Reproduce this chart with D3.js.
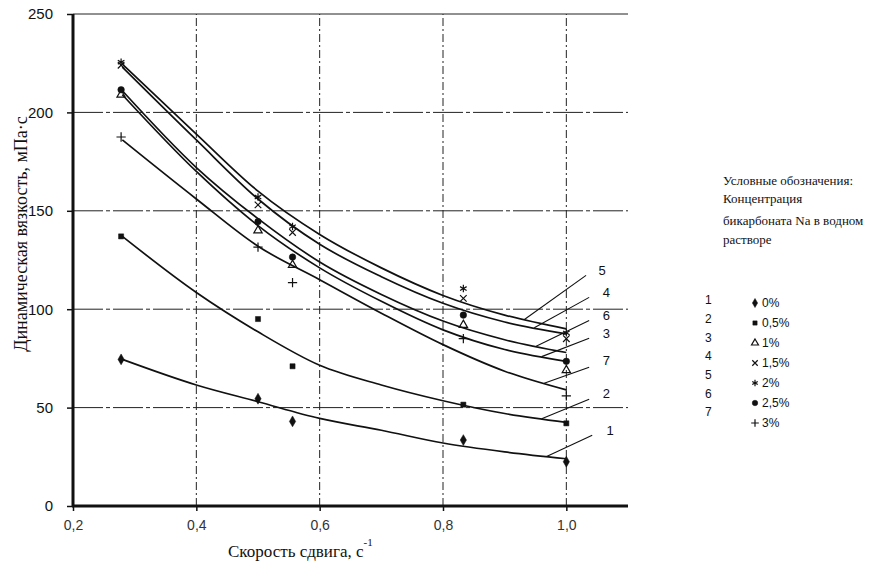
<!DOCTYPE html>
<html><head><meta charset="utf-8">
<script src="https://cdn.jsdelivr.net/npm/d3@7/dist/d3.min.js"></script>
<style>body{margin:0;background:#fff}svg{display:block}</style>
</head><body>
<svg id="c" width="871" height="571"></svg>
<script>
// ---- data ----
const pointX = [0.278, 0.5, 0.556, 0.833, 1.0];
const s1 = [74.5, 54.5, 43, 33.5, 22.5];      // 0%
const s2 = [137, 95, 71, 51.5, 42];           // 0,5%
const s3 = [209, 140, 122.5, 92, 69];         // 1%
const s4 = [224, 153, 139, 105.5, 85];        // 1,5%
const s5 = [225.5, 157, 142, 110.5, 88];      // 2%
const s6 = [211.5, 144.5, 126.5, 97, 73.5];   // 2,5%
const s7 = [187.5, 131.5, 113.5, 85, 56];     // 3%

const curveX = [0.28, 0.4, 0.5, 0.6, 0.7, 0.8, 0.9, 1.0];
const c1 = [74.5, 61.5, 53, 44.5, 38.5, 32, 27.5, 24];
const c2 = [137, 108.5, 88.5, 71.5, 61.5, 53.5, 47, 42.5];
const c3 = [209, 170, 142.5, 121, 104, 89.5, 79.5, 73.5];
const c4 = [223, 186, 156, 133, 116.5, 103, 93.5, 87.5];
const c5 = [224.5, 189, 160, 138, 121, 107, 97, 90];
const c6 = [211, 172, 146, 124, 107.5, 94, 84.5, 78];
const c7 = [186, 156, 132, 115, 98, 82, 68.5, 59];

const seriesNames = ["0%", "0,5%", "1%", "1,5%", "2%", "2,5%", "3%"];
const seriesNums = ["1", "2", "3", "4", "5", "6", "7"];
const xTicks = [0.2, 0.4, 0.6, 0.8, 1.0];
const xTickLabels = ["0,2", "0,4", "0,6", "0,8", "1,0"];
const yTicks = [0, 50, 100, 150, 200, 250];
const legendTitle = ["Условные обозначения:", "Концентрация", "бикарбоната Na в водном", "растворе"];
const yTitle = "Динамическая вязкость, мПа·с";
const xTitle = "Скорость сдвига, с";

// curve labels: [label, labelX, labelY, leaderStartX, leaderStartY, leaderEndX, curve#] (data units)
const curveLabels = [
  ["5", 1.058, 119.8, 1.032, 117.2, 0.932, 5],
  ["4", 1.065, 108.6, 1.037, 106.0, 0.948, 4],
  ["6", 1.065, 97.0, 1.037, 94.3, 0.951, 6],
  ["3", 1.065, 87.8, 1.037, 85.2, 0.960, 3],
  ["7", 1.065, 74.0, 1.037, 70.5, 0.964, 7],
  ["2", 1.065, 57.3, 1.037, 54.2, 0.960, 2],
  ["1", 1.071, 38.5, 1.042, 35.9, 0.968, 1]
];

// ---- drawing ----
const pts = [s1, s2, s3, s4, s5, s6, s7];
const curves = [c1, c2, c3, c4, c5, c6, c7];
const svg = d3.select("#c");
const x = d3.scaleLinear().domain([0.2, 1.1]).range([73, 628]);
const y = d3.scaleLinear().domain([0, 250]).range([506, 14]);

const ink = "#111";
// grid
const g = svg.append("g");
g.selectAll(".hg").data(yTicks.filter(d => d > 0)).join("line")
  .attr("x1", x(0.2)).attr("x2", x(1.1)).attr("y1", d => y(d)).attr("y2", d => y(d))
  .attr("stroke", "#222").attr("stroke-width", 1).attr("stroke-dasharray", d => d === 250 ? null : "30,3,4,3");
g.selectAll(".vg").data(xTicks.filter(d => d > 0.2)).join("line")
  .attr("x1", d => x(d)).attr("x2", d => x(d)).attr("y1", y(0)).attr("y2", y(250))
  .attr("stroke", "#222").attr("stroke-width", 1).attr("stroke-dasharray", "8,3,2,3");

// axes
const yAxis = d3.axisLeft(y).tickValues(yTicks).tickSize(6).tickPadding(14).tickFormat(d3.format("d"));
const ya = svg.append("g").attr("transform", `translate(${x(0.2)},0)`).call(yAxis);
const xAxis = d3.axisBottom(x).tickValues(xTicks).tickSize(5).tickPadding(9).tickFormat((d, i) => xTickLabels[i]);
const xa = svg.append("g").attr("transform", `translate(0,${y(0)})`).call(xAxis);
[ya, xa].forEach(a => {
  a.select(".domain").remove();
  a.selectAll("line").attr("stroke", ink).attr("stroke-width", 1.5);
  a.selectAll("text").attr("fill", ink).style("font-family", "Liberation Sans, Arial, sans-serif");
});
ya.selectAll("text").style("font-size", "15px");
xa.selectAll("text").style("font-size", "14px").attr("fill", "#333");
svg.append("line").attr("x1", x(0.2)).attr("x2", x(0.2)).attr("y1", y(0) + 1).attr("y2", y(250))
  .attr("stroke", ink).attr("stroke-width", 3);
svg.append("line").attr("x1", x(0.2) - 1).attr("x2", x(1.1)).attr("y1", y(0)).attr("y2", y(0))
  .attr("stroke", ink).attr("stroke-width", 3);

// curves
const line = d3.line().x((d, i) => x(curveX[i])).y(d => y(d)).curve(d3.curveMonotoneX);
svg.append("g").selectAll("path").data(curves).join("path")
  .attr("d", d => line(d)).attr("fill", "none").attr("stroke", ink).attr("stroke-width", 1.7);

// markers
const S = d3;
const symDefs = [
  {t: S.symbolDiamond, size: 34, fill: true},
  {t: S.symbolSquare, size: 26, fill: true},
  {t: S.symbolTriangle, size: 30, fill: false},
  {t: S.symbolTimes || S.symbolCross, size: 30, fill: false},
  {t: S.symbolAsterisk || S.symbolCross, size: 40, fill: false},
  {t: S.symbolCircle, size: 34, fill: true},
  {t: S.symbolPlus || S.symbolCross, size: 30, fill: false}
];
function drawSym(sel, k, scale) {
  const s = symDefs[k];
  sel.attr("d", d3.symbol().type(s.t).size(s.size * (scale || 1))())
    .attr("fill", s.fill ? ink : "none").attr("stroke", ink).attr("stroke-width", s.fill ? 0.5 : 1.2);
}
pts.forEach((arr, k) => {
  svg.append("g").selectAll("path").data(arr).join("path")
    .attr("transform", (d, i) => `translate(${x(pointX[i])},${y(d)})`)
    .call(drawSym, k);
});

// curve labels + leaders
function interp(arr, xv) {
  const i = d3.bisectRight(curveX, xv) - 1;
  const j = Math.min(i + 1, curveX.length - 1);
  const t = (xv - curveX[i]) / (curveX[j] - curveX[i] || 1);
  return arr[i] + (arr[j] - arr[i]) * t;
}
const cl = svg.append("g");
curveLabels.forEach(d => {
  const arr = curves[d[6] - 1];
  cl.append("line").attr("x1", x(d[3])).attr("y1", y(d[4])).attr("x2", x(d[5])).attr("y2", y(interp(arr, d[5])))
    .attr("stroke", ink).attr("stroke-width", 1.1);
  cl.append("text").attr("x", x(d[1])).attr("y", y(d[2])).attr("dy", "0.35em").attr("text-anchor", "middle")
    .style("font-family", "Liberation Sans, Arial, sans-serif").style("font-size", "13px").attr("fill", ink).text(d[0]);
});

// axis titles
svg.append("text").attr("transform", `translate(27,${234}) rotate(-90)`).attr("text-anchor", "middle")
  .style("font-family", "Liberation Serif, Times New Roman, serif").style("font-size", "18px").attr("fill", ink).text(yTitle);
const xt = svg.append("text").attr("x", 228).attr("y", 557)
  .style("font-family", "Liberation Serif, Times New Roman, serif").style("font-size", "17px").attr("fill", ink);
xt.append("tspan").text(xTitle);
xt.append("tspan").attr("dy", -11).style("font-size", "11px").text("-1");

// legend
const lg = svg.append("g").style("font-family", "Liberation Serif, Times New Roman, serif").style("font-size", "13px").attr("fill", ink);
const lgY = [185, 203, 225, 244];
legendTitle.forEach((t, i) => lg.append("text").attr("x", 723).attr("y", lgY[i]).text(t));
const ls = svg.append("g").style("font-family", "Liberation Sans, Arial, sans-serif").style("font-size", "12px").attr("fill", ink);
seriesNums.forEach((t, i) => ls.append("text").attr("x", 705).attr("y", 300 + i * 18.7).attr("dy", "0.35em").text(t));
seriesNames.forEach((t, i) => {
  ls.append("path").attr("transform", `translate(755,${303 + i * 20})`).call(drawSym, i, 0.7);
  ls.append("text").attr("x", 762).attr("y", 303 + i * 20).attr("dy", "0.35em").text(t);
});
</script>
</body></html>
